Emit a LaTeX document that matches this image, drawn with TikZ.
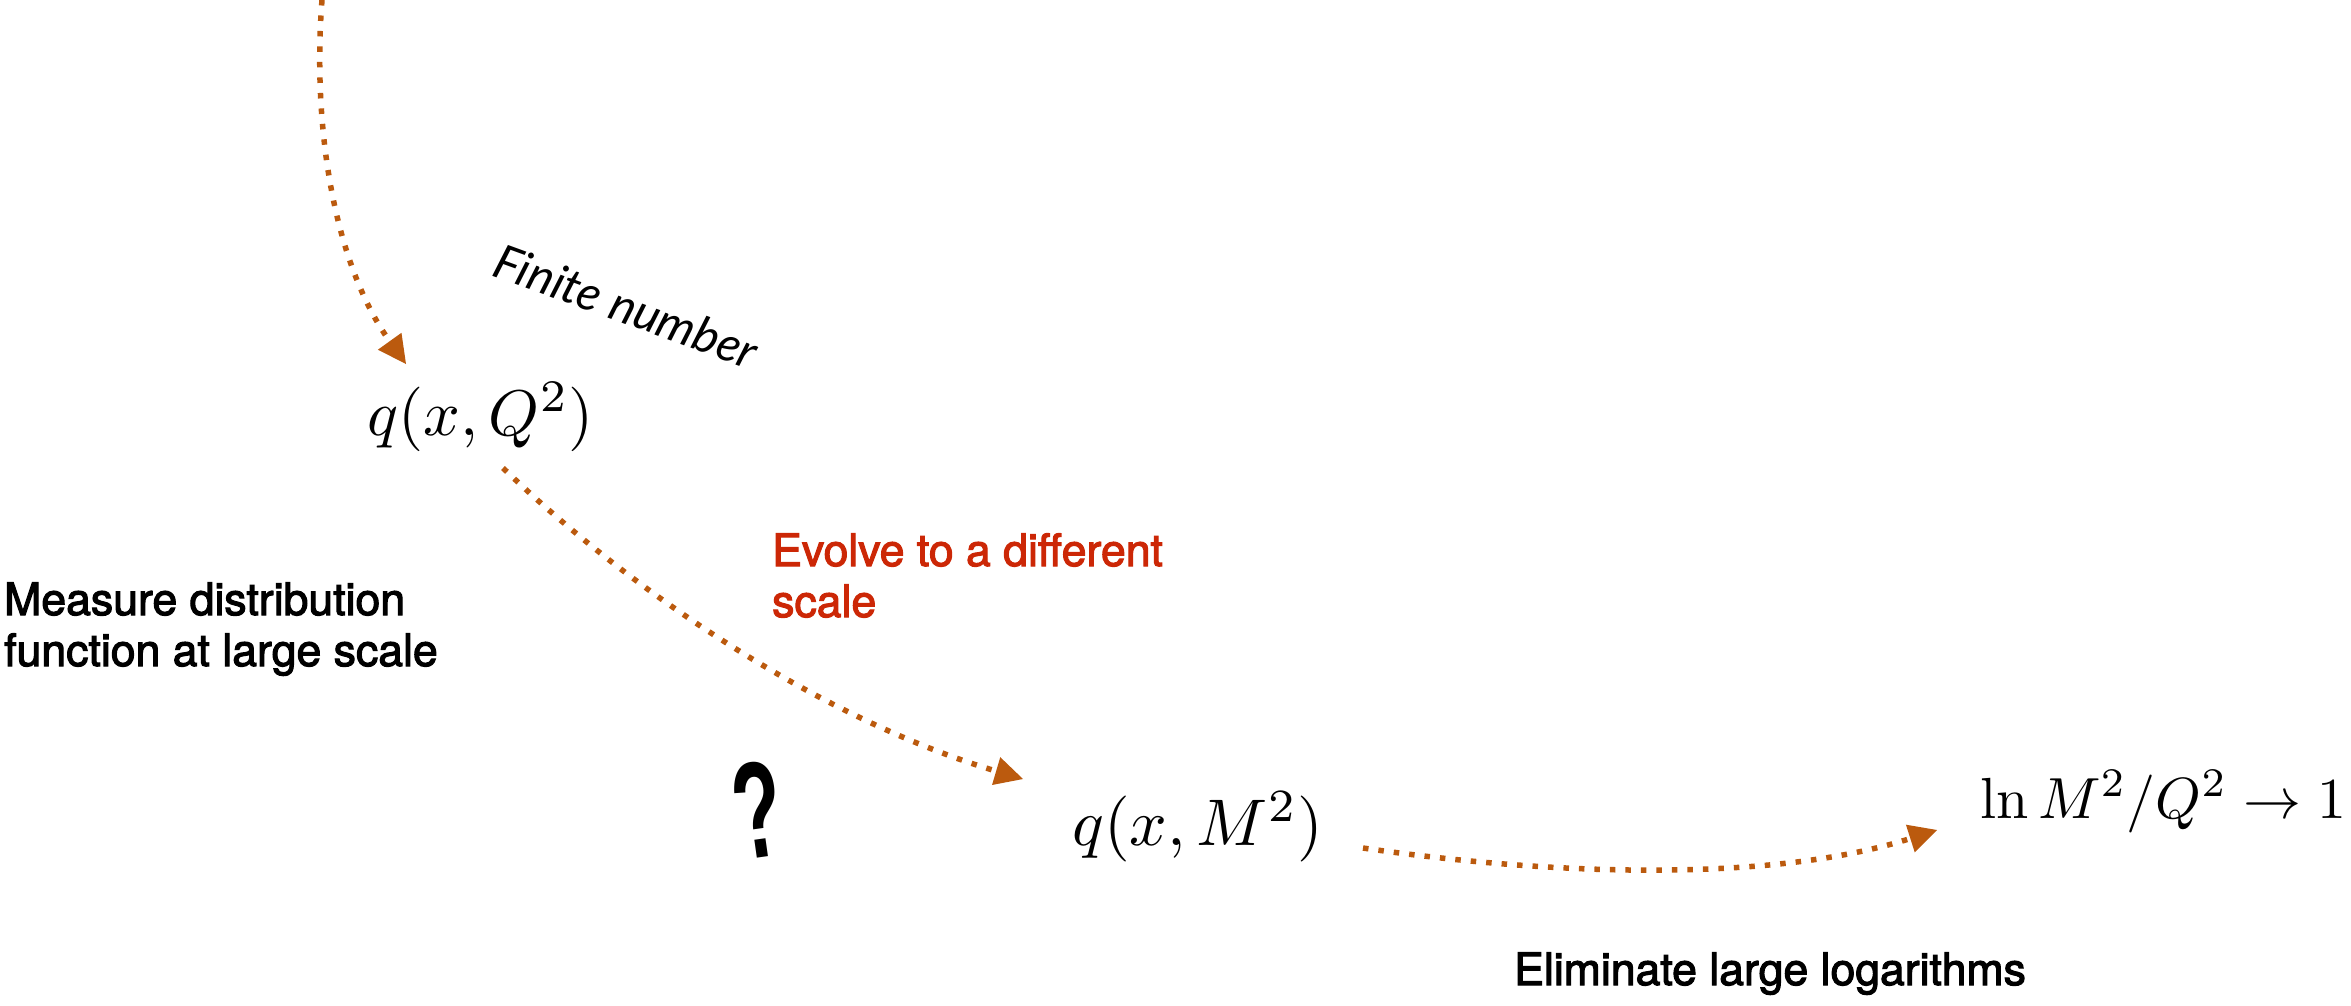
\documentclass[tikz,border=0pt]{standalone}
\usepackage{fontspec}
\usetikzlibrary{arrows.meta}
\newfontfamily\medfont[FakeBold=2.5]{TeX Gyre Heros}
\newfontfamily\handfont{Lato}
\newfontfamily\markfont{Liberation Sans}
\definecolor{arrowc}{HTML}{BB5A0E}
\definecolor{redc}{HTML}{CC2706}
\tikzset{
  flow/.style={draw=arrowc,line width=5.5pt,dash pattern=on 5.5pt off 10pt,
    -{Triangle[length=28pt,width=29pt,fill=arrowc,line width=0pt,sep=0pt]}},
  mathlabel/.style={anchor=base west,inner sep=0pt},
  note/.style={anchor=base west,inner sep=0pt,align=left,font=\fontsize{44.6}{51}\medfont},
}
\begin{document}
\begin{tikzpicture}[x=1pt,y=-1pt]
\useasboundingbox (0,0) rectangle (2351,1005);
\node[mathlabel,scale=6.45] (qQ) at (366,435) {$q(x,Q^2)$};
\node[mathlabel,scale=6.6] (qM) at (1071,845) {$q(x,M^2)$};
\node[mathlabel,scale=5.8] (lnr) at (1979,818) {$\ln M^2/Q^2\to 1$};
\coordinate (top) at (322,0);
\coordinate (qQin) at (406,364);
\coordinate (qQout) at (503,468);
\coordinate (qMin) at (1023,779);
\coordinate (qMout) at (1363,848);
\coordinate (lnin) at (1937,830);
\draw[flow] (top) .. controls (312,130) and (335,265) .. (qQin);
\draw[flow] (qQout) .. controls (640,600) and (830,722) .. (qMin);
\draw[flow] (qMout) .. controls (1570,878) and (1780,880) .. (lnin);
\node[note,text=redc] (evolve) at (772,617) {Evolve to a different\\scale};
\node[note] (measure) at (4,666) {Measure distribution\\function at large scale};
\node[note] (elim) at (1514,985) {Eliminate large logarithms};
\node[anchor=base west,inner sep=0pt,rotate=-20,font=\fontsize{48}{50}\handfont\itshape] (finite) at (490,275) {Finite number};
\node[anchor=base,inner sep=0pt,rotate=8,xscale=0.58,font=\fontsize{137}{140}\markfont\bfseries] (ask) at (765,857) {?};
\end{tikzpicture}
\end{document}
